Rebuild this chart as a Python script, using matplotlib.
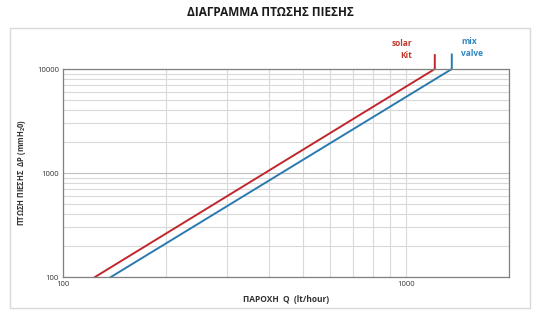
import numpy as np
import matplotlib.pyplot as plt
from matplotlib.patches import Rectangle

# flow Q (lt/hour) vs pressure drop (mmH2O)
q_solar = [124, 1215, 1215]
dp_solar = [100, 10000, 13600]
q_mix = [138, 1362, 1362]
dp_mix = [100, 10000, 13800]

x_ticks = [100, 1000]
y_ticks = [100, 1000, 10000]

plt.rcParams['font.family'] = ['Open Sans', 'DejaVu Sans']

fig = plt.figure(figsize=(5.4, 3.14), dpi=100)
fig.patches.append(Rectangle((10 / 540, 1 - 308 / 314), 520 / 540, 280 / 314,
                             transform=fig.transFigure, fill=False,
                             edgecolor='#d9d9d9', linewidth=1.0))
fig.text(0.5, 1 - 12 / 314, 'ΔΙΑΓΡΑΜΜΑ ΠΤΩΣΗΣ ΠΙΕΣΗΣ', ha='center', va='center',
         fontsize=8.5, fontweight='bold', color='#1a1a1a')

ax = fig.add_axes([63 / 540, 1 - 277 / 314, 446 / 540, 208 / 314])
ax.set_xscale('log')
ax.set_yscale('log')
ax.set_xlim(100, 2000)
ax.set_ylim(100, 10000)

ax.grid(True, which='both', color='#d9d9d9', linewidth=0.8)
ax.grid(True, which='major', axis='y', color='#bfbfbf', linewidth=0.8)
ax.set_axisbelow(True)

ax.plot(q_solar, dp_solar, color='#c0272d', linewidth=1.4, clip_on=False)
ax.plot(q_mix, dp_mix, color='#2a7ab0', linewidth=1.4, clip_on=False)

ax.set_xticks(x_ticks)
ax.set_xticklabels([str(v) for v in x_ticks])
ax.set_yticks(y_ticks)
ax.set_yticklabels([str(v) for v in y_ticks])
ax.xaxis.set_minor_formatter(plt.NullFormatter())
ax.yaxis.set_minor_formatter(plt.NullFormatter())
ax.tick_params(which='both', length=0, labelsize=5.5, colors='#333333', pad=3)

for s in ax.spines.values():
    s.set_color('#808080')
    s.set_linewidth(0.9)

ax.set_xlabel('ΠΑΡΟΧΗ  Q  (lt/hour)', fontsize=6, fontweight='bold', color='#333333', labelpad=5)
ax.set_ylabel('ΠΤΩΣΗ ΠΙΕΣΗΣ  ΔP (mmH$_\\mathregular{2}$0)', fontsize=5.5,
              fontweight='bold', color='#333333', labelpad=6)

fig.text(412 / 540, 1 - 44 / 314, 'solar', ha='right', va='center', fontsize=6,
         fontweight='bold', color='#c0392b')
fig.text(412 / 540, 1 - 56 / 314, 'Kit', ha='right', va='center', fontsize=6,
         fontweight='bold', color='#c0392b')
fig.text(461 / 540, 1 - 42 / 314, 'mix', ha='left', va='center', fontsize=6,
         fontweight='bold', color='#2e86c1')
fig.text(461 / 540, 1 - 54 / 314, 'valve', ha='left', va='center', fontsize=6,
         fontweight='bold', color='#2e86c1')

fig.savefig('out.png', dpi=100)
